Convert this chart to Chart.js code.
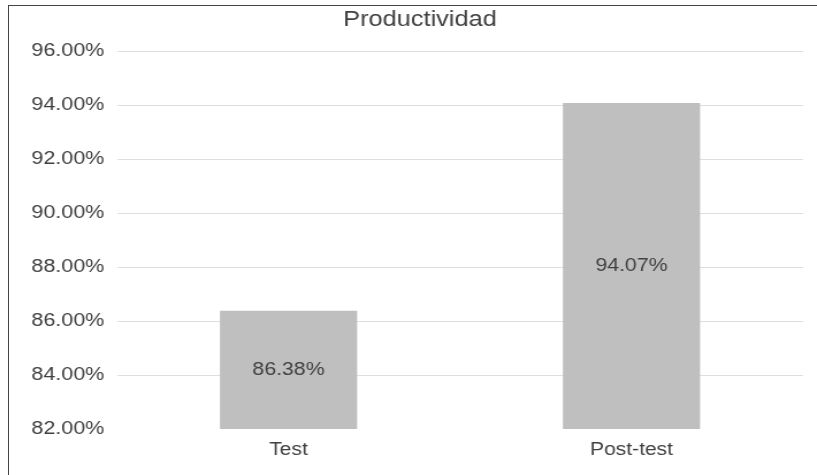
<!DOCTYPE html>
<html>
<head>
<meta charset="utf-8">
<script src="https://cdn.jsdelivr.net/npm/chart.js@4/dist/chart.umd.min.js"></script>
<style>
  html, body { margin: 0; padding: 0; background: #ffffff; overflow: hidden; }
  #wrap { position: relative; width: 817px; height: 475px; overflow: hidden; }
  /* the chart is drawn on a narrower canvas and widened to the page width */
  #chart { display: block; transform-origin: 0 0; transform: scaleX(1.1507); }
  /* thin frame along the top and left edges */
  #frame {
    position: absolute; left: 8px; top: 5px; right: -4px; bottom: -4px;
    border-top: 1.5px solid #454545; border-left: 1.5px solid #454545;
    pointer-events: none;
  }
</style>
</head>
<body>
<div id="wrap"><canvas id="chart" width="710" height="475"></canvas><div id="frame"></div></div>
<script>
const chartTitle = 'Productividad';
const categories = ['Test', 'Post-test'];
const productividad = [86.38, 94.07];
const yMin = 82;
const yMax = 96;
const yStep = 2;

const textColor = '#404040';
const fontFamily = '"Liberation Sans", Arial, Helvetica, sans-serif';

// value labels centred inside each bar
const barLabels = {
  id: 'barLabels',
  afterDatasetsDraw(chart) {
    const ctx = chart.ctx;
    const meta = chart.getDatasetMeta(0);
    const bottom = chart.chartArea.bottom;
    ctx.save();
    ctx.font = '18.5px ' + fontFamily;
    ctx.fillStyle = textColor;
    ctx.textAlign = 'center';
    ctx.textBaseline = 'middle';
    meta.data.forEach((bar, i) => {
      const v = chart.data.datasets[0].data[i];
      const yMid = (bar.y + Math.min(bar.base, bottom)) / 2;
      ctx.fillText(v.toFixed(2) + '%', bar.x, yMid);
    });
    ctx.restore();
  }
};

new Chart(document.getElementById('chart'), {
  type: 'bar',
  data: {
    labels: categories,
    datasets: [{
      label: chartTitle,
      data: productividad,
      backgroundColor: '#bfbfbf',
      borderWidth: 0,
      barPercentage: 0.4,
      categoryPercentage: 1.0
    }]
  },
  options: {
    responsive: false,
    animation: false,
    devicePixelRatio: 1,
    layout: { padding: { left: 26, right: 6, top: 0, bottom: 0 } },
    plugins: {
      legend: { display: false },
      tooltip: { enabled: false },
      title: {
        display: true,
        text: chartTitle,
        color: textColor,
        font: { family: fontFamily, size: 22, weight: 'normal' },
        padding: { top: 7, bottom: 17.6 }
      }
    },
    scales: {
      x: {
        grid: { display: false, drawTicks: false },
        border: { display: false },
        ticks: {
          color: textColor,
          padding: 10,
          font: { family: fontFamily, size: 18.3 }
        },
        afterFit(axis) { axis.height = 46; }
      },
      y: {
        min: yMin,
        max: yMax,
        border: { display: false },
        grid: {
          drawTicks: false,
          lineWidth: 1,
          color: (c) => (c.tick && c.tick.value === yMin) ? 'rgba(0,0,0,0)' : '#dedede'
        },
        ticks: {
          stepSize: yStep,
          color: textColor,
          padding: 11,
          font: { family: fontFamily, size: 18.7 },
          callback: (v) => Number(v).toFixed(2) + '%'
        },
        afterFit(axis) { axis.width = 75.7; }
      },
      // empty margin on the right of the plot
      yRight: {
        position: 'right',
        display: true,
        grid: { display: false, drawTicks: false },
        border: { display: false },
        ticks: { display: false },
        afterFit(axis) { axis.width = 6.2; }
      }
    }
  },
  plugins: [barLabels]
});
</script>
</body>
</html>
